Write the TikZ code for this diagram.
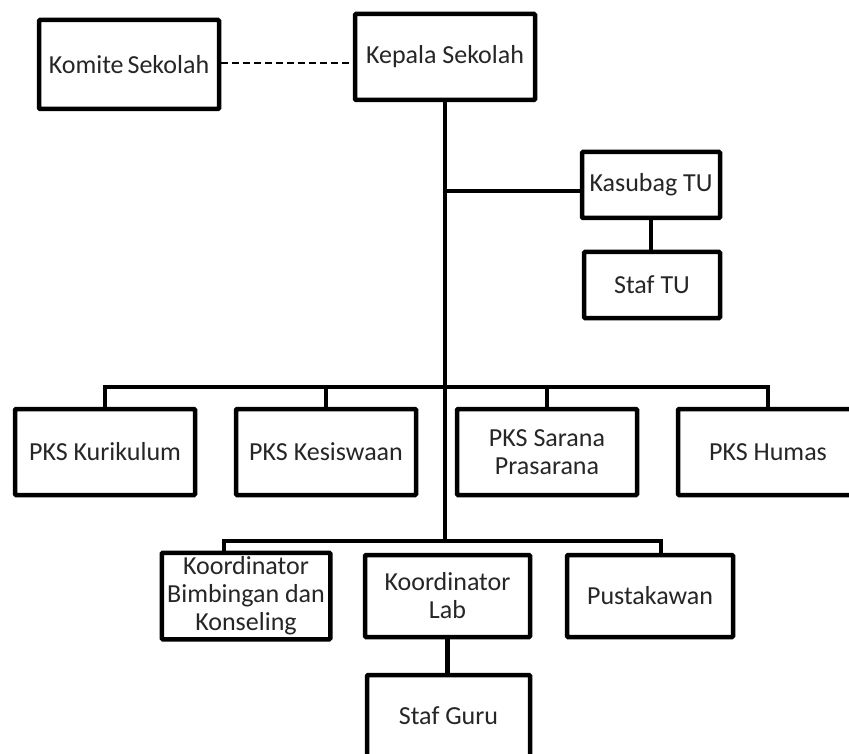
\documentclass[tikz,border=0pt]{standalone}
\usepackage{tikz}
\usepackage{fontspec}
\setmainfont{Carlito}
\definecolor{txt}{HTML}{262626}
\begin{document}
\begin{tikzpicture}[x=1pt,y=-1pt,
  box/.style={draw=black, line width=4.5pt, fill=white, rounded corners=1pt, inner sep=0pt, align=center, text=txt, font=\fontsize{26}{28}\selectfont},
  nobox/.style={box, draw=none},
  border/.style={draw=black, line width=4.5pt, rounded corners=1pt},
  conn/.style={line width=4.2pt, black},
  thinconn/.style={line width=3.2pt, black},
  dashline/.style={line width=2.8pt, black, dash pattern=on 7pt off 4pt}
]
\useasboundingbox (0,0) rectangle (849,754);
% top
\node[box, minimum width=180pt, minimum height=89pt] (kom) at (129,64.5) {Komite\hspace{0.15em}Sekolah};
\node[box, minimum width=180pt, minimum height=86pt] (kep) at (445,57) {Kepala Sekolah};
\node[box, minimum width=138pt, minimum height=66pt] (kas) at (651,185) {Kasubag TU};
\node[box, minimum width=136pt, minimum height=66pt] (stu) at (652,285) {Staf TU};
% PKS row
\node[box, minimum width=180pt, minimum height=86pt] (kur) at (105,452) {PKS Kurikulum};
\node[box, minimum width=180pt, minimum height=86pt] (kes) at (326,452) {PKS Kesiswaan};
\node[box, minimum width=180pt, minimum height=86pt] (sar) at (547,452) {PKS Sarana\\Prasarana};
\node[box, minimum width=180pt, minimum height=86pt] (hum) at (768,452) {PKS Humas};
% bottom row
\node[nobox, minimum width=164pt, minimum height=82pt] (bk) at (246,596) {Koordinator\\Bimbingan dan\\Konseling};
\draw[border] (bk.north west) rectangle (bk.south east);
\node[box, minimum width=165pt, minimum height=82pt] (lab) at (447.5,596) {Koordinator\\Lab};
\node[box, minimum width=166pt, minimum height=82pt] (pus) at (650,596) {Pustakawan};
\node[box, minimum width=163pt, minimum height=82pt] (sg) at (448.5,716) {Staf Guru};
% connectors
\coordinate (t1) at (445,191);
\coordinate (t2) at (445,387);
\coordinate (t3) at (445,541);
\coordinate (bl) at (224,541);
\coordinate (br) at (661,541);
\draw[dashline] (kom.east |- 0,63) -- (kep.west |- 0,63);
\draw[conn] (kep.south) -- (t3);
\draw[thinconn] (t1) -- (kas.west |- t1);
\draw[conn] (kas.south) -- (kas.south |- stu.north);
\draw[conn] (kur.north) -- (kur.north |- t2) -- (hum.north |- t2) -- (hum.north);
\draw[conn] (kes.north) -- (kes.north |- t2);
\draw[conn] (sar.north) -- (sar.north |- t2);
\draw[thinconn] (bk.north -| bl) -- (bl) -- (br) -- (pus.north -| br);
\draw[conn] (lab.south) -- (lab.south |- sg.north);
\end{tikzpicture}
\end{document}
